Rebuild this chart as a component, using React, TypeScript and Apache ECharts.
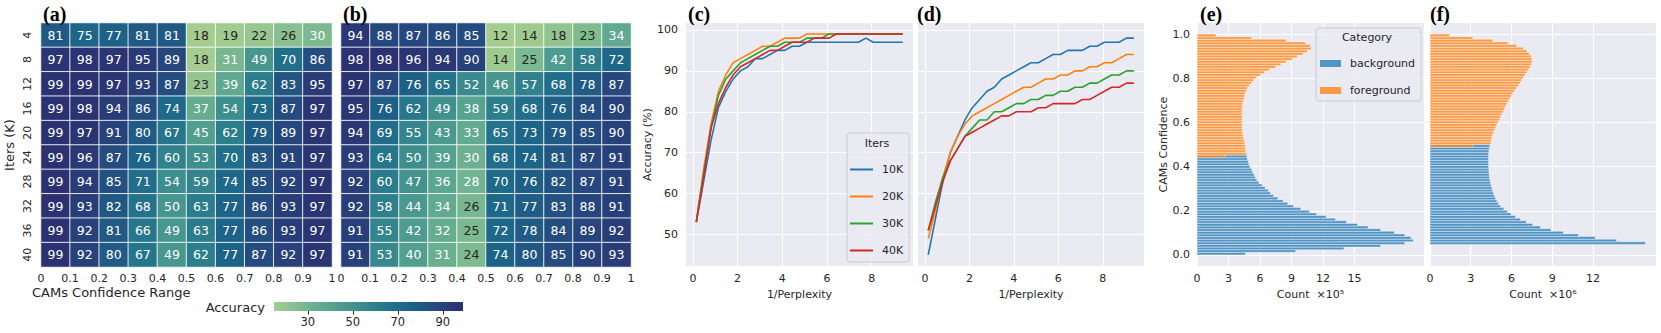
import React, { useEffect, useRef } from 'react';
import * as echarts from 'echarts';

// ---------- heatmaps (a), (b) ----------
const itersK = ['4', '8', '12', '16', '20', '24', '28', '32', '36', '40'];
const confRanges = ['0-0.1', '0.1-0.2', '0.2-0.3', '0.3-0.4', '0.4-0.5', '0.5-0.6', '0.6-0.7', '0.7-0.8', '0.8-0.9', '0.9-1'];
const accA = [
  [81, 75, 77, 81, 81, 18, 19, 22, 26, 30],
  [97, 98, 97, 95, 89, 18, 31, 49, 70, 86],
  [99, 99, 97, 93, 87, 23, 39, 62, 83, 95],
  [99, 98, 94, 86, 74, 37, 54, 73, 87, 97],
  [99, 97, 91, 80, 67, 45, 62, 79, 89, 97],
  [99, 96, 87, 76, 60, 53, 70, 83, 91, 97],
  [99, 94, 85, 71, 54, 59, 74, 85, 92, 97],
  [99, 93, 82, 68, 50, 63, 77, 86, 93, 97],
  [99, 92, 81, 66, 49, 63, 77, 86, 93, 97],
  [99, 92, 80, 67, 49, 62, 77, 87, 92, 97],
];
const accB = [
  [94, 88, 87, 86, 85, 12, 14, 18, 23, 34],
  [98, 98, 96, 94, 90, 14, 25, 42, 58, 72],
  [97, 87, 76, 65, 52, 46, 57, 68, 78, 87],
  [95, 76, 62, 49, 38, 59, 68, 76, 84, 90],
  [94, 69, 55, 43, 33, 65, 73, 79, 85, 90],
  [93, 64, 50, 39, 30, 68, 74, 81, 87, 91],
  [92, 60, 47, 36, 28, 70, 76, 82, 87, 91],
  [92, 58, 44, 34, 26, 71, 77, 83, 88, 91],
  [91, 55, 42, 32, 25, 72, 78, 84, 89, 92],
  [91, 53, 40, 31, 24, 74, 80, 85, 90, 93],
];
const colorbarRange = [15, 99];
const colorbarTicks = [30, 50, 70, 90];
const crest = ['#a5cd90', '#7dba91', '#59a590', '#40908e', '#287a8c', '#1c6488', '#254b7f', '#2c3172'];

// ---------- lines (c), (d) ----------
const invPerplexity = [0.15, 0.48, 0.81, 1.14, 1.47, 1.8, 2.13, 2.46, 2.79, 3.12, 3.45, 3.78, 4.11, 4.44, 4.77, 5.1, 5.43, 5.76, 6.09, 6.42, 6.75, 7.08, 7.41, 7.74, 8.07, 8.4, 8.73, 9.06, 9.39];
const iterNames = ['10K', '20K', '30K', '40K'];
const iterColors = ['#1f77b4', '#ff7f0e', '#2ca02c', '#d62728'];
const c10 = [53, 63, 73, 81, 85, 88, 90, 91, 93, 93, 94, 95, 95, 96, 96, 97, 97, 97, 97, 97, 97, 97, 97, 98, 97, 97, 97, 97, 97];
const c20 = [53, 66, 77, 85, 89, 92, 93, 94, 95, 96, 96, 97, 98, 98, 98, 99, 99, 99, 99, 99, 99, 99, 99, 99, 99, 99, 99, 99, 99];
const c30 = [53, 65, 76, 84, 88, 90, 92, 93, 94, 95, 96, 96, 97, 97, 97, 98, 98, 98, 99, 99, 99, 99, 99, 99, 99, 99, 99, 99, 99];
const c40 = [53, 64, 76, 82, 86, 89, 91, 92, 93, 94, 95, 95, 96, 97, 97, 97, 98, 98, 98, 99, 99, 99, 99, 99, 99, 99, 99, 99, 99];
const d10 = [45, 54, 63, 70, 74, 78, 81, 83, 85, 86, 88, 89, 90, 91, 92, 92, 93, 94, 94, 95, 95, 95, 96, 96, 97, 97, 97, 98, 98];
const d20 = [49, 56, 64, 70, 74, 77, 79, 80, 81, 82, 83, 84, 85, 86, 86, 87, 88, 88, 89, 89, 90, 90, 91, 91, 92, 92, 93, 94, 94];
const d30 = [51, 58, 64, 68, 71, 74, 76, 78, 78, 80, 80, 81, 82, 82, 83, 83, 84, 84, 85, 85, 86, 86, 87, 87, 88, 89, 89, 90, 90];
const d40 = [51, 57, 63, 68, 71, 74, 75, 76, 77, 78, 79, 79, 80, 80, 80, 81, 81, 82, 82, 82, 82, 83, 83, 84, 85, 86, 86, 87, 87];
const lineXRange = [-0.31, 9.85];
const lineYRange = [42.3, 101.7];
const lineXTicks = [0, 2, 4, 6, 8];
const lineYTicks = [50, 60, 70, 80, 90, 100];

// ---------- histograms (e), (f) ----------
const histBins = 84;
const bgE = [4.6, 9.4, 14.0, 17.5, 19.8, 20.6, 20.4, 19.8, 18.8, 17.5, 16.3, 15.3, 14.25, 13.2, 12.3, 11.4, 10.7, 9.9, 9.2, 8.65, 8.2, 7.7, 7.3, 7.0, 6.8, 6.5, 6.2, 5.9, 5.7, 5.55, 5.45, 5.3, 5.2, 5.05, 4.95, 4.88, 4.8, 4.75];
const fgStartE = 37;
const fgE = [2.7, 4.7, 4.65, 4.62, 4.6, 4.55, 4.5, 4.45, 4.4, 4.35, 4.32, 4.3, 4.3, 4.3, 4.3, 4.3, 4.3, 4.3, 4.3, 4.35, 4.35, 4.4, 4.5, 4.55, 4.6, 4.7, 4.8, 5.0, 5.2, 5.4, 5.65, 6.05, 6.45, 6.9, 7.5, 8.0, 8.5, 9.1, 9.55, 10.1, 10.5, 10.9, 10.8, 10.35, 8.5, 5.2, 1.8];
const bgF = [0, 0, 0, 0, 15.86, 13.75, 12.18, 10.93, 9.83, 8.92, 8.14, 7.57, 7.08, 6.67, 6.3, 5.98, 5.69, 5.44, 5.2, 5.05, 4.93, 4.83, 4.75, 4.68, 4.6, 4.56, 4.5, 4.46, 4.42, 4.39, 4.37, 4.35, 4.34, 4.32, 4.31, 4.31, 4.31, 4.31, 4.32, 4.34, 4.36, 4.41];
const fgStartF = 41;
const fgF = [3.16, 4.49, 4.51, 4.56, 4.6, 4.68, 4.75, 4.85, 4.93, 5.02, 5.12, 5.2, 5.29, 5.39, 5.49, 5.56, 5.66, 5.78, 5.88, 5.98, 6.1, 6.23, 6.37, 6.52, 6.64, 6.76, 6.89, 7.0, 7.13, 7.25, 7.38, 7.47, 7.52, 7.52, 7.45, 7.33, 7.13, 6.89, 6.4, 5.74, 4.63, 3.16, 1.45];
const histYRange = [-0.05, 1.05];
const histYTicks = [0, 0.2, 0.4, 0.6, 0.8, 1.0];
const histEXMax = 21.63;
const histFXMax = 16.65;
const histEXTicks = [0, 3, 6, 9, 12, 15];
const histFXTicks = [0, 3, 6, 9, 12];
const catNames = ['background', 'foreground'];
const catColors = ['rgba(31,119,180,0.75)', 'rgba(255,127,14,0.75)'];

const TXT = '#262626';
const FONT = 'DejaVu Sans';

function heatData(m: number[][]) {
  return m.flatMap((row, r) =>
    row.map((v, c) => ({ value: [c, r, v], label: { color: v < 27 ? TXT : '#ffffff' } }))
  );
}

function histData(vals: number[], start: number) {
  return vals.map((v, i) => [(start + i) / histBins, (start + i + 1) / histBins, v]);
}

function histRender(fill: string) {
  return (params: any, api: any) => {
    const lo = api.value(0);
    const hi = api.value(1);
    const cnt = api.value(2);
    if (!cnt) return null;
    const p0 = api.coord([0, hi]);
    const p1 = api.coord([cnt, lo]);
    return {
      type: 'rect',
      shape: { x: p0[0], y: p0[1], width: p1[0] - p0[0], height: p1[1] - p0[1] },
      style: { fill, stroke: 'rgba(255,255,255,0.85)', lineWidth: 0.5 },
    };
  };
}

const darkAxis = (extra: any) => ({
  type: 'value',
  axisLine: { show: false },
  axisTick: { show: false },
  splitLine: { show: true, lineStyle: { color: '#ffffff', width: 1.1 } },
  axisLabel: { color: TXT, fontSize: 11, fontFamily: FONT },
  ...extra,
});

function buildOption(): any {
  const lineSets = [
    [c10, c20, c30, c40],
    [d10, d20, d30, d40],
  ];
  const lineSeries: any[] = [];
  lineSets.forEach((set, gi) => {
    set.forEach((vals, k) => {
      lineSeries.push({
        type: 'line',
        name: iterNames[k],
        xAxisIndex: 5 + gi,
        yAxisIndex: 3 + gi,
        data: invPerplexity.map((x, i) => [x, vals[i]]),
        symbol: 'none',
        showSymbol: false,
        itemStyle: { color: iterColors[k] },
        lineStyle: { color: iterColors[k], width: 1.6 },
        emphasis: { disabled: true },
        z: 3,
      });
    });
  });

  const panelLabel = (t: string, x: number) => ({
    type: 'text',
    x,
    y: 14,
    z: 100,
    style: { text: t, font: 'bold 20px "Liberation Serif"', fill: '#000', verticalAlign: 'middle', align: 'left' },
  });

  return {
    animation: false,
    textStyle: { fontFamily: FONT },
    grid: [
      { left: 41, top: 23, width: 291, height: 244 },
      { left: 341, top: 23, width: 290, height: 244 },
      { left: 274, top: 302, width: 189, height: 9 },
      { left: 686, top: 23, width: 227, height: 243, show: true, backgroundColor: '#eaeaf2', borderWidth: 0 },
      { left: 918, top: 23, width: 226, height: 243, show: true, backgroundColor: '#eaeaf2', borderWidth: 0 },
      { left: 1197, top: 23, width: 227, height: 243, show: true, backgroundColor: '#eaeaf2', borderWidth: 0 },
      { left: 1430, top: 23, width: 226, height: 243, show: true, backgroundColor: '#eaeaf2', borderWidth: 0 },
    ],
    xAxis: [
      { type: 'category', gridIndex: 0, data: confRanges, show: false },
      {
        type: 'value', gridIndex: 0, min: 0, max: 1, interval: 0.1, position: 'bottom',
        axisLine: { show: false }, axisTick: { show: false }, splitLine: { show: false },
        axisLabel: { color: TXT, fontSize: 11, margin: 6 },
      },
      { type: 'category', gridIndex: 1, data: confRanges, show: false },
      {
        type: 'value', gridIndex: 1, min: 0, max: 1, interval: 0.1, position: 'bottom',
        axisLine: { show: false }, axisTick: { show: false }, splitLine: { show: false },
        axisLabel: { color: TXT, fontSize: 11, margin: 6 },
      },
      {
        type: 'value', gridIndex: 2, min: colorbarRange[0], max: colorbarRange[1],
        axisLine: { show: false }, splitLine: { show: false },
        axisTick: { show: true, customValues: colorbarTicks, length: 3.5, lineStyle: { color: TXT, width: 1 } },
        axisLabel: { customValues: colorbarTicks, color: TXT, fontSize: 11.5, margin: 5 },
      },
      darkAxis({
        gridIndex: 3, min: lineXRange[0], max: lineXRange[1],
        axisTick: { show: false, customValues: lineXTicks },
        axisLabel: { customValues: lineXTicks, color: TXT, fontSize: 11, margin: 7 },
        name: '1/Perplexity', nameLocation: 'middle', nameGap: 21,
        nameTextStyle: { color: TXT, fontSize: 11 },
      }),
      darkAxis({
        gridIndex: 4, min: lineXRange[0], max: lineXRange[1],
        axisTick: { show: false, customValues: lineXTicks },
        axisLabel: { customValues: lineXTicks, color: TXT, fontSize: 11, margin: 7 },
        name: '1/Perplexity', nameLocation: 'middle', nameGap: 21,
        nameTextStyle: { color: TXT, fontSize: 11 },
      }),
      darkAxis({
        gridIndex: 5, min: 0, max: histEXMax,
        axisTick: { show: false, customValues: histEXTicks },
        axisLabel: { customValues: histEXTicks, color: TXT, fontSize: 11, margin: 7 },
        name: 'Count  ×10⁵', nameLocation: 'middle', nameGap: 21,
        nameTextStyle: { color: TXT, fontSize: 11 },
      }),
      darkAxis({
        gridIndex: 6, min: 0, max: histFXMax,
        axisTick: { show: false, customValues: histFXTicks },
        axisLabel: { customValues: histFXTicks, color: TXT, fontSize: 11, margin: 7 },
        name: 'Count  ×10⁶', nameLocation: 'middle', nameGap: 21,
        nameTextStyle: { color: TXT, fontSize: 11 },
      }),
    ],
    yAxis: [
      {
        type: 'category', gridIndex: 0, data: itersK, inverse: true,
        axisLine: { show: false }, axisTick: { show: false }, splitLine: { show: false },
        axisLabel: { rotate: 90, margin: 8, color: TXT, fontSize: 11 },
        name: 'Iters (K)', nameLocation: 'middle', nameGap: 25,
        nameTextStyle: { color: TXT, fontSize: 13 },
      },
      {
        type: 'category', gridIndex: 1, data: itersK, inverse: true,
        axisLine: { show: false }, axisTick: { show: false }, splitLine: { show: false },
        axisLabel: { show: false },
      },
      { type: 'value', gridIndex: 2, min: 0, max: 1, show: false },
      darkAxis({
        gridIndex: 3, min: lineYRange[0], max: lineYRange[1],
        axisTick: { show: false, customValues: lineYTicks },
        axisLabel: { customValues: lineYTicks, color: TXT, fontSize: 11, margin: 8 },
        name: 'Accuracy (%)', nameLocation: 'middle', nameGap: 31,
        nameTextStyle: { color: TXT, fontSize: 11 },
      }),
      darkAxis({
        gridIndex: 4, min: lineYRange[0], max: lineYRange[1],
        axisTick: { show: false, customValues: lineYTicks },
        axisLabel: { show: false, customValues: lineYTicks },
      }),
      darkAxis({
        gridIndex: 5, min: histYRange[0], max: histYRange[1],
        axisTick: { show: false, customValues: histYTicks },
        axisLabel: {
          customValues: histYTicks, color: TXT, fontSize: 11, margin: 7,
          formatter: (v: number) => v.toFixed(1),
        },
        name: 'CAMs Confidence', nameLocation: 'middle', nameGap: 28,
        nameTextStyle: { color: TXT, fontSize: 11 },
      }),
      darkAxis({
        gridIndex: 6, min: histYRange[0], max: histYRange[1],
        axisTick: { show: false, customValues: histYTicks },
        axisLabel: { show: false, customValues: histYTicks },
      }),
    ],
    visualMap: [
      {
        type: 'continuous', seriesIndex: 0, dimension: 2, show: false,
        min: Math.min(...accA.flat()), max: Math.max(...accA.flat()), inRange: { color: crest },
      },
      {
        type: 'continuous', seriesIndex: 1, dimension: 2, show: false,
        min: Math.min(...accB.flat()), max: Math.max(...accB.flat()), inRange: { color: crest },
      },
    ],
    legend: [
      {
        data: iterNames,
        left: 847, top: 133, orient: 'vertical',
        icon: 'rect', itemWidth: 23, itemHeight: 2, itemGap: 16,
        padding: [31, 6, 6, 3],
        backgroundColor: 'rgba(234,234,242,0.85)', borderColor: '#cccccc', borderWidth: 1, borderRadius: 3,
        textStyle: { color: TXT, fontSize: 11, padding: [0, 0, 0, 4] },
        selectedMode: false,
      },
      {
        data: catNames.map((n, i) => ({ name: n, itemStyle: { color: catColors[i] } })),
        left: 1316, top: 28, orient: 'vertical',
        icon: 'rect', itemWidth: 21, itemHeight: 7, itemGap: 16,
        padding: [30, 6, 5, 4],
        backgroundColor: 'rgba(234,234,242,0.85)', borderColor: '#cccccc', borderWidth: 1, borderRadius: 3,
        textStyle: { color: TXT, fontSize: 11, padding: [0, 0, 0, 4] },
        selectedMode: false,
      },
    ],
    series: [
      {
        type: 'heatmap', xAxisIndex: 0, yAxisIndex: 0, data: heatData(accA),
        label: { show: true, fontSize: 12.5, fontFamily: FONT },
        itemStyle: { borderColor: 'rgba(255,255,255,0.85)', borderWidth: 1 },
        emphasis: { disabled: true },
      },
      {
        type: 'heatmap', xAxisIndex: 2, yAxisIndex: 1, data: heatData(accB),
        label: { show: true, fontSize: 12.5, fontFamily: FONT },
        itemStyle: { borderColor: 'rgba(255,255,255,0.85)', borderWidth: 1 },
        emphasis: { disabled: true },
      },
      {
        type: 'custom', xAxisIndex: 4, yAxisIndex: 2,
        data: [[colorbarRange[0], colorbarRange[1]]],
        encode: { x: [0, 1] },
        renderItem: (params: any, api: any) => {
          const p0 = api.coord([api.value(0), 1]);
          const p1 = api.coord([api.value(1), 0]);
          return {
            type: 'rect',
            shape: { x: p0[0], y: p0[1], width: p1[0] - p0[0], height: p1[1] - p0[1] },
            style: {
              fill: new echarts.graphic.LinearGradient(0, 0, 1, 0,
                crest.map((c, i) => ({ offset: i / (crest.length - 1), color: c }))),
            },
          };
        },
      },
      ...lineSeries,
      {
        type: 'custom', name: catNames[0], xAxisIndex: 7, yAxisIndex: 5,
        data: histData(bgE, 0), encode: { x: 2, y: [0, 1] },
        itemStyle: { color: catColors[0] }, renderItem: histRender(catColors[0]),
      },
      {
        type: 'custom', name: catNames[1], xAxisIndex: 7, yAxisIndex: 5,
        data: histData(fgE, fgStartE), encode: { x: 2, y: [0, 1] },
        itemStyle: { color: catColors[1] }, renderItem: histRender(catColors[1]),
      },
      {
        type: 'custom', name: catNames[0], xAxisIndex: 8, yAxisIndex: 6,
        data: histData(bgF, 0), encode: { x: 2, y: [0, 1] },
        itemStyle: { color: catColors[0] }, renderItem: histRender(catColors[0]),
      },
      {
        type: 'custom', name: catNames[1], xAxisIndex: 8, yAxisIndex: 6,
        data: histData(fgF, fgStartF), encode: { x: 2, y: [0, 1] },
        itemStyle: { color: catColors[1] }, renderItem: histRender(catColors[1]),
      },
    ],
    graphic: [
      panelLabel('(a)', 43),
      panelLabel('(b)', 343),
      panelLabel('(c)', 688),
      panelLabel('(d)', 917),
      panelLabel('(e)', 1200),
      panelLabel('(f)', 1430),
      {
        type: 'text', x: 32, y: 292, z: 100,
        style: { text: 'CAMs Confidence Range', font: `13px "${FONT}"`, fill: TXT, verticalAlign: 'middle', align: 'left' },
      },
      {
        type: 'text', x: 265, y: 307, z: 100,
        style: { text: 'Accuracy', font: `13px "${FONT}"`, fill: TXT, verticalAlign: 'middle', align: 'right' },
      },
      {
        type: 'text', x: 877, y: 143, z: 100,
        style: { text: 'Iters', font: `11px "${FONT}"`, fill: TXT, verticalAlign: 'middle', align: 'center' },
      },
      {
        type: 'text', x: 1367, y: 37, z: 100,
        style: { text: 'Category', font: `11px "${FONT}"`, fill: TXT, verticalAlign: 'middle', align: 'center' },
      },
    ],
  };
}

export default function App() {
  const ref = useRef<HTMLDivElement>(null);
  useEffect(() => {
    const chart = echarts.init(ref.current!, null, { renderer: 'svg' });
    chart.setOption(buildOption());
    return () => chart.dispose();
  }, []);
  return (
    <div
      ref={ref}
      style={{ position: 'absolute', left: 0, top: 0, width: 1661, height: 333, background: '#ffffff' }}
    />
  );
}
